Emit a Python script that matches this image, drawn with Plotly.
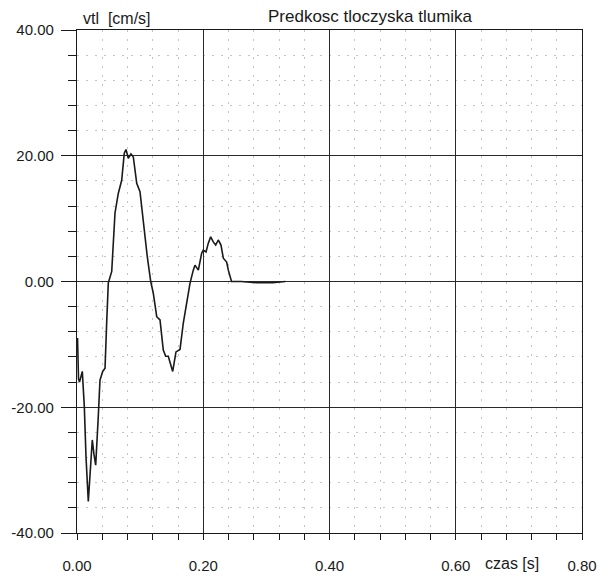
import plotly.graph_objects as go

# Damper rod velocity over time
time_s = [0.0008, 0.0016, 0.0024, 0.0040, 0.0063, 0.0084, 0.0116, 0.0143, 0.0179,
          0.0206, 0.0242, 0.0269, 0.0296, 0.0337, 0.0364, 0.0407, 0.0444, 0.0470,
          0.0496, 0.0550, 0.0570, 0.0602, 0.0654, 0.0708, 0.0749, 0.0776, 0.0813,
          0.0855, 0.0892, 0.0946, 0.0998, 0.1050, 0.1114, 0.1168, 0.1209, 0.1263,
          0.1315, 0.1367, 0.1405, 0.1446, 0.1516, 0.1568, 0.1632, 0.1684, 0.1738,
          0.1790, 0.1842, 0.1869, 0.1922, 0.1975, 0.2001, 0.2044, 0.2080, 0.2118,
          0.2159, 0.2197, 0.2238, 0.2281, 0.2318, 0.2371, 0.2397, 0.2435, 0.2448,
          0.2600, 0.2850, 0.3100, 0.3300]
velocity_cms = [-9.0, -12.0, -15.5, -16.0, -15.0, -14.3, -19.9, -28.0, -35.0,
                -31.0, -25.2, -27.5, -29.2, -21.5, -15.7, -14.3, -13.8, -6.6,
                -0.2, 1.6, 5.0, 10.9, 14.0, 16.1, 20.4, 21.0, 19.6,
                20.3, 19.8, 15.6, 14.3, 9.3, 3.9, 0.0, -1.9, -5.6,
                -6.1, -10.9, -11.9, -11.9, -14.3, -11.2, -10.8, -6.6, -3.2,
                -0.3, 1.8, 2.6, 1.8, 4.5, 5.0, 4.7, 6.1, 7.1,
                6.3, 5.8, 6.6, 5.8, 3.7, 3.1, 1.8, 0.2, 0.0,
                0.0, -0.2, -0.2, 0.0]

x_tickvals = [0.0, 0.2, 0.4, 0.6, 0.8]
x_ticktext = ["0.00", "0.20", "0.40", "0.60", "0.80"]
y_tickvals = [40, 20, 0, -20, -40]
y_ticktext = ["40.00", "20.00", "0.00", "-20.00", "-40.00"]

title_text = "Predkosc tloczyska tlumika"
y_label = "vtl&nbsp;&nbsp;[cm/s]"
x_label = "czas [s]"

FONT = "Liberation Sans, Arial, sans-serif"
INK = "#1a1a1a"
DOTS = "#c4c4c4"

fig = go.Figure()
fig.add_trace(go.Scatter(
    x=time_s, y=velocity_cms, mode="lines",
    line=dict(color=INK, width=1.6),
    hoverinfo="skip", showlegend=False,
))

fig.update_xaxes(
    range=[0, 0.8], tickvals=x_tickvals, ticktext=x_ticktext,
    automargin=False,
    ticks="outside", ticklen=19, tickcolor="rgba(0,0,0,0)",
    showgrid=True, gridcolor="#2a2a2a", gridwidth=1,
    showline=True, linecolor=INK, linewidth=1.3, mirror=True,
    zeroline=False,
    tickfont=dict(family=FONT, size=15, color=INK),
    minor=dict(dtick=0.04, tick0=0, ticks="outside", ticklen=6,
               tickcolor=INK, showgrid=True, gridcolor=DOTS,
               gridwidth=1, griddash="2px,7px"),
)
fig.update_yaxes(
    range=[-40, 40], tickvals=y_tickvals, ticktext=y_ticktext,
    automargin=False,
    ticks="outside", ticklen=15, tickcolor=INK,
    ticklabelstandoff=4,
    showgrid=True, gridcolor="#2a2a2a", gridwidth=1,
    showline=True, linecolor=INK, linewidth=1.3, mirror=True,
    zeroline=False,
    tickfont=dict(family=FONT, size=15, color=INK),
    minor=dict(dtick=4, tick0=0, ticks="outside", ticklen=8,
               tickcolor=INK, showgrid=True, gridcolor=DOTS,
               gridwidth=1, griddash="2px,7px"),
)

fig.update_layout(
    width=603, height=577,
    margin=dict(l=77, r=21, t=30, b=44),
    paper_bgcolor="white", plot_bgcolor="white",
    font=dict(family=FONT, color=INK),
    annotations=[
        dict(text=title_text, xref="paper", yref="paper", x=0.582, y=1.026,
             xanchor="center", yanchor="middle", showarrow=False,
             font=dict(family=FONT, size=17, color=INK)),
        dict(text=y_label, xref="paper", yref="paper", x=0.008, y=1.022,
             xanchor="left", yanchor="middle", showarrow=False,
             font=dict(family=FONT, size=16, color=INK)),
        dict(text=x_label, xref="paper", yref="paper", x=0.861, y=-0.060,
             xanchor="center", yanchor="middle", showarrow=False,
             font=dict(family=FONT, size=16, color=INK)),
    ],
)

fig.write_html("out.html")
